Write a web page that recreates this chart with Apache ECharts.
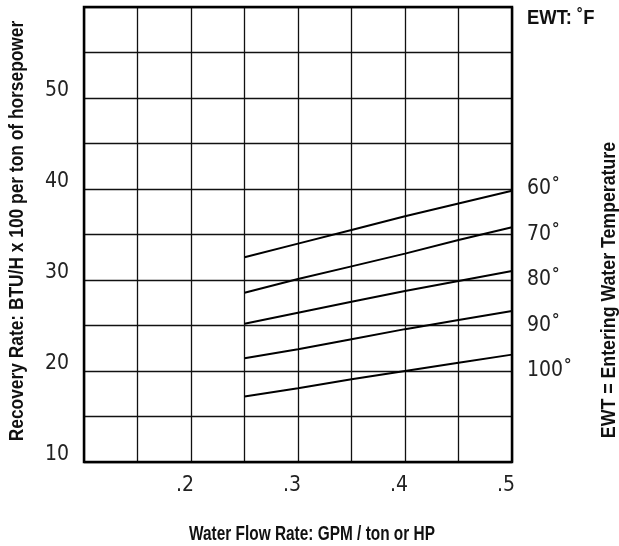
<!DOCTYPE html>
<html>
<head>
<meta charset="utf-8">
<script src="https://cdn.jsdelivr.net/npm/echarts@6/dist/echarts.min.js"></script>
<style>
  html, body { margin: 0; padding: 0; background: #fff; }
  #chart { width: 619px; height: 546px; }
</style>
</head>
<body>
<div id="chart"></div>
<script>
// water flow rate (GPM / ton or HP)
var flowRates = [0.25, 0.30, 0.35, 0.40, 0.45, 0.50];

// recovery rate, BTU/H x 100, one list per entering water temperature
var ewt60  = [32.5, 34.0, 35.5, 37.0, 38.4, 39.8];
var ewt70  = [28.6, 30.1, 31.5, 32.9, 34.4, 35.8];
var ewt80  = [25.2, 26.4, 27.6, 28.8, 29.9, 31.0];
var ewt90  = [21.4, 22.4, 23.5, 24.6, 25.6, 26.6];
var ewt100 = [17.2, 18.1, 19.1, 20.0, 20.9, 21.8];

// tick labels
var xTickLabels = ['.2', '.3', '.4', '.5'];
var xTickValues = [20, 30, 40, 50];       // hundredths
var yTickLabels = ['10', '20', '30', '40', '50'];
var ewtLabels = ['60˚', '70˚', '80˚', '90˚', '100˚'];
var ewtLabelAt = [40, 35, 30, 25, 20];    // y grid line each label sits on

var fontCond = "'DejaVu Sans Condensed', 'Liberation Sans Narrow', sans-serif";
var fontBold = "'Liberation Sans', Arial, sans-serif";

function mkLine(name, vals) {
    var d = [];
    for (var i = 0; i < flowRates.length; i++) {
        d.push([flowRates[i], vals[i]]);
    }
    return {
        name: name,
        type: 'line',
        data: d,
        showSymbol: false,
        symbol: 'none',
        silent: true,
        lineStyle: { color: '#000', width: 2 },
        z: 5
    };
}

// condensed bold text: squeeze Liberation Sans along the text direction
function mkTitle(txt, x, y, size, squeeze, rot) {
    return {
        type: 'text',
        x: x,
        y: y,
        rotation: rot || 0,
        scaleX: squeeze,
        style: {
            text: txt,
            fill: '#111',
            font: 'bold ' + size + 'px ' + fontBold,
            textAlign: 'center',
            textVerticalAlign: 'middle'
        }
    };
}

var chart = echarts.init(document.getElementById('chart'));

var option = {
    animation: false,
    backgroundColor: '#fff',
    grid: {
        left: 84,
        right: 107,
        top: 7,
        bottom: 84,
        show: true,
        borderColor: '#000',
        borderWidth: 2.5,
        backgroundColor: 'transparent',
        z: 10
    },
    xAxis: {
        type: 'value',
        min: 0.1,
        max: 0.5,
        interval: 0.05,
        axisLine: { show: false },
        axisTick: { show: false },
        splitLine: { show: true, lineStyle: { color: '#111', width: 1.3 } },
        axisLabel: {
            margin: 13,
            color: '#222',
            fontSize: 21,
            fontFamily: fontCond,
            padding: [0, 12, 0, 0],
            showMinLabel: true,
            showMaxLabel: true,
            formatter: function (v) {
                var k = xTickValues.indexOf(Math.round(v * 100));
                return k >= 0 ? xTickLabels[k] : '';
            }
        }
    },
    yAxis: [
        {
            type: 'value',
            min: 10,
            max: 60,
            interval: 5,
            axisLine: { show: false },
            axisTick: { show: false },
            splitLine: { show: true, lineStyle: { color: '#111', width: 1.3 } },
            axisLabel: {
                margin: 15,
                color: '#222',
                fontSize: 21,
                fontFamily: fontCond,
                verticalAlign: 'bottom',
                lineHeight: 15,
                showMaxLabel: true,
                formatter: function (v) {
                    var k = yTickLabels.indexOf(String(Math.round(v)));
                    return k >= 0 ? yTickLabels[k] : '';
                }
            }
        },
        {
            type: 'value',
            position: 'right',
            min: 10,
            max: 60,
            interval: 5,
            axisLine: { show: false },
            axisTick: { show: false },
            splitLine: { show: false },
            axisLabel: {
                margin: 15,
                color: '#222',
                fontSize: 21,
                fontFamily: fontCond,
                formatter: function (v) {
                    var k = ewtLabelAt.indexOf(Math.round(v));
                    return k >= 0 ? ewtLabels[k] : '';
                }
            }
        }
    ],
    graphic: [
        {
            type: 'text',
            x: 527,
            y: 18,
            scaleX: 0.92,
            style: {
                text: 'EWT: ˚F',
                fill: '#111',
                font: 'bold 20px ' + fontBold,
                textAlign: 'left',
                textVerticalAlign: 'middle'
            }
        },
        mkTitle('Water Flow Rate: GPM / ton or HP', 312, 534, 20, 0.77),
        mkTitle('Recovery Rate: BTU/H x 100 per ton of horsepower', 18, 231, 19.5, 0.89, Math.PI / 2),
        mkTitle('EWT = Entering Water Temperature', 610, 290, 19.5, 0.91, Math.PI / 2)
    ],
    series: [
        mkLine('60˚', ewt60),
        mkLine('70˚', ewt70),
        mkLine('80˚', ewt80),
        mkLine('90˚', ewt90),
        mkLine('100˚', ewt100)
    ]
};

chart.setOption(option);
</script>
</body>
</html>
